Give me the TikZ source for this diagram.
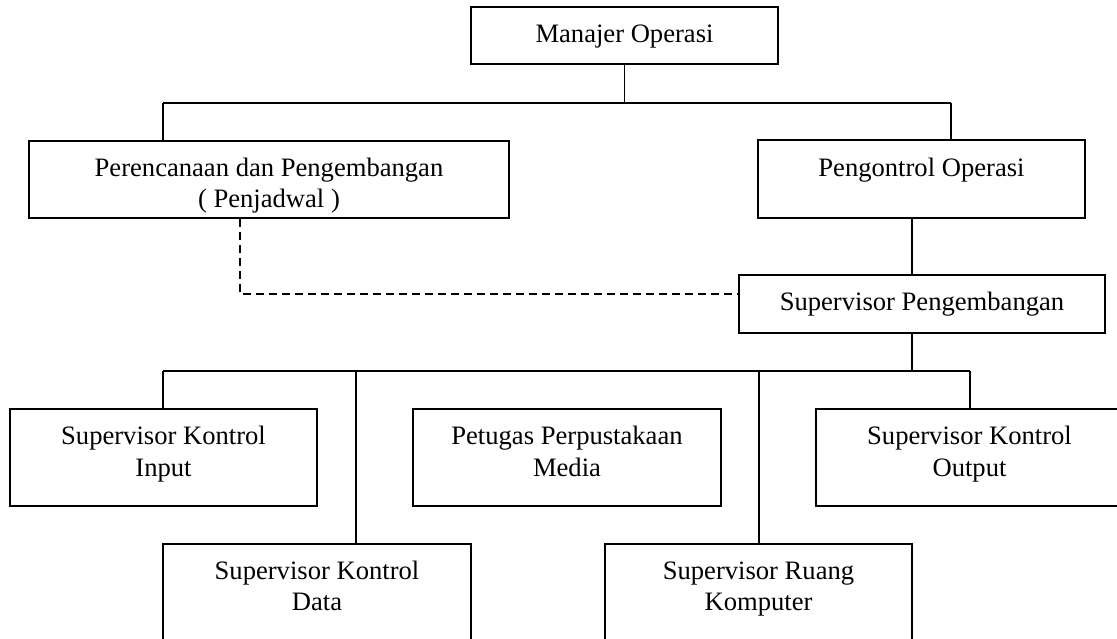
\documentclass[tikz,border=0pt]{standalone}
\usepackage{fontspec}
\setmainfont{Liberation Serif}
\usepackage{tikz}
\usetikzlibrary{shapes}

\begin{document}
\begin{tikzpicture}[x=0.5bp,y=-0.5bp,
  box/.style={draw,rectangle,line width=1bp,inner sep=0pt,align=center,font=\fontsize{13.3bp}{15.5bp}\selectfont,text height=9bp,text depth=2bp},
  row/.style={box,minimum width=153.5bp,minimum height=48.5bp,text height=20.5bp,text depth=2bp},
  low/.style={box,minimum width=153.5bp,minimum height=49.5bp,text height=18.5bp,text depth=2bp},
  link/.style={line width=0.75bp}]

\useasboundingbox (0,0) rectangle (1117,639);
\clip (0,0) rectangle (1117,639);

\node (MO) at (624.5,35.5)[box,minimum width=153.5bp,minimum height=28.5bp] {Manajer Operasi};
\node (PP) at (269,179.5)[box,minimum width=240bp,minimum height=38.5bp,text height=28.5bp,text depth=0.5bp] {Perencanaan dan Pengembangan\\( Penjadwal )};
\node (PO) at (921.5,179)[box,minimum width=163.5bp,minimum height=39bp,text depth=11.3bp] {Pengontrol Operasi};
\node (SP) at (922,304)[box,minimum width=183bp,minimum height=29bp] {Supervisor Pengembangan};
\node (SKI) at (163.5,457.5)[row] {Supervisor Kontrol\\Input};
\node (PPM) at (567,457.5)[row,minimum width=154bp] {Petugas Perpustakaan\\Media};
\node (SKO) at (969.5,457.5)[row] {Supervisor Kontrol\\Output};
\node (SKD) at (317,593.5)[low,minimum width=154bp] {Supervisor Kontrol\\Data};
\node (SRK) at (758.5,593.5)[low] {Supervisor Ruang\\Komputer};

\coordinate (T0) at (624.5,103);
\coordinate (T1) at (163,103);
\coordinate (T2) at (951,103);
\coordinate (V1) at (912,250);
\coordinate (D1) at (240,294);
\coordinate (B0) at (912,371);
\coordinate (B1) at (163,371);
\coordinate (B2) at (356,371);
\coordinate (B3) at (759,371);
\coordinate (B4) at (970,371);

\draw [link] (MO) to (T0);
\draw [link] (T1) to (T2);
\draw [link] (T1) to (T1 |- PP.north);
\draw [link] (T2) to (T2 |- PO.north);
\draw [link] (V1 |- PO.south) to (V1 |- SP.north);
\draw [link,dash pattern=on 4bp off 2.5bp] (D1 |- PP.south) to (D1) to (D1 -| SP.west);
\draw [link] (B0 |- SP.south) to (B0);
\draw [link] (B1) to (B4);
\draw [link] (B1) to (B1 |- SKI.north);
\draw [link] (B2) to (B2 |- SKD.north);
\draw [link] (B3) to (B3 |- SRK.north);
\draw [link] (B4) to (B4 |- SKO.north);
\end{tikzpicture}
\end{document}
